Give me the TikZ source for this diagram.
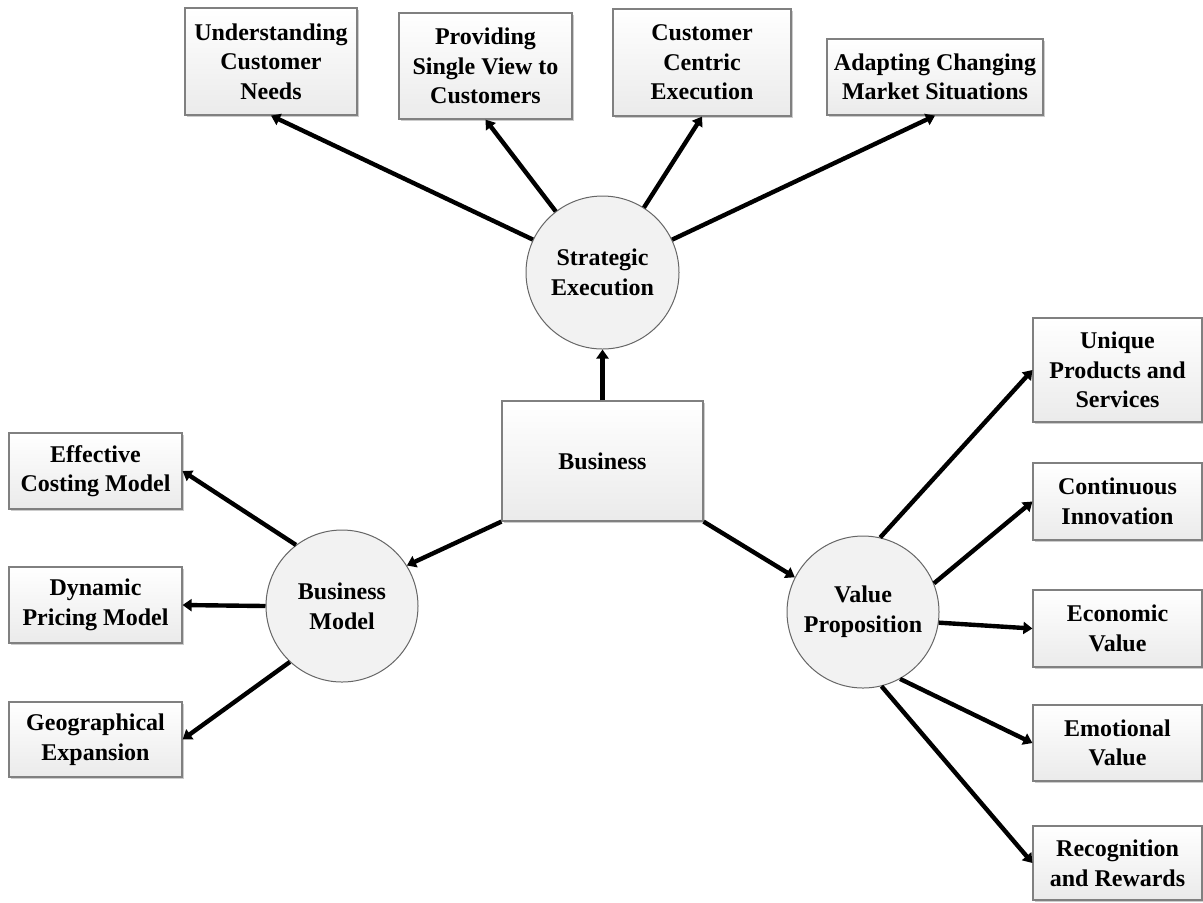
\documentclass[tikz,border=0pt]{standalone}
\usepackage{fontspec}
\setmainfont{Liberation Serif}
\usetikzlibrary{arrows.meta,shadows}
\begin{document}
\begin{tikzpicture}[x=0.5pt,y=-0.5pt,
  font=\fontsize{12}{14.8}\selectfont\bfseries,
  boxnode/.style={rectangle,draw=black!50,line width=0.6pt,top color=white,bottom color=black!8,
    align=center,inner sep=0pt,
    drop shadow={shadow xshift=1.2pt,shadow yshift=-1.2pt,fill=black,opacity=0.2}},
  circnode/.style={circle,draw=black!60,line width=0.5pt,fill=black!5,align=center,inner sep=0pt},
  conn/.style={line width=2.2pt,-{Triangle[length=4.5pt,width=6pt]}}]
\useasboundingbox (0,0) rectangle (1203,902);
% top boxes
\node[boxnode,minimum width=86pt,minimum height=53.5pt] (U) at (271,61.5) {Understanding\\Customer\\Needs};
\node[boxnode,minimum width=86.5pt,minimum height=53pt] (P) at (485.5,66) {Providing\\Single View to\\Customers};
\node[boxnode,minimum width=89pt,minimum height=53.5pt] (C) at (702,62.5) {Customer\\Centric\\Execution};
\node[boxnode,minimum width=108pt,minimum height=38pt] (A) at (935,77) {Adapting Changing\\Market Situations};
% centre
\node[circnode,minimum size=76.5pt] (SE) at (602.5,272.5) {Strategic\\Execution};
\node[boxnode,minimum width=100.5pt,minimum height=60pt] (B) at (602.5,461) {Business};
\node[circnode,minimum size=76pt] (BM) at (342,606) {Business\\Model};
\node[circnode,minimum size=76pt] (VP) at (863,612) {Value\\Proposition};
% left boxes
\node[boxnode,minimum width=86.5pt,minimum height=38pt] (E) at (95.5,471) {Effective\\Costing Model};
\node[boxnode,minimum width=86.5pt,minimum height=38pt] (D) at (95.5,605) {Dynamic\\Pricing Model};
\node[boxnode,minimum width=86.5pt,minimum height=37.5pt] (G) at (95.5,739.5) {Geographical\\Expansion};
% right boxes
\node[boxnode,minimum width=84.5pt,minimum height=52pt] (R1) at (1117.5,370) {Unique\\Products and\\Services};
\node[boxnode,minimum width=84.5pt,minimum height=38.5pt] (R2) at (1117.5,501.5) {Continuous\\Innovation};
\node[boxnode,minimum width=84.5pt,minimum height=38.5pt] (R3) at (1117.5,628.5) {Economic\\Value};
\node[boxnode,minimum width=84.5pt,minimum height=38pt] (R4) at (1117.5,743) {Emotional\\Value};
\node[boxnode,minimum width=84.5pt,minimum height=37pt] (R5) at (1117.5,863) {Recognition\\and Rewards};
% connectors
\draw[conn] (B.north) -- (SE.south);
\draw[conn] (SE) -- (U.south);
\draw[conn] (SE) -- (P.south);
\draw[conn] (SE) -- (C.south);
\draw[conn] (SE) -- (A.south);
\draw[conn] (B.south west) -- (BM.32);
\draw[conn] (BM.127) -- (E.east);
\draw[conn] (BM.180) -- (D.east);
\draw[conn] (BM.227) -- (G.east);
\draw[conn] (B.south east) -- (VP.153);
\draw[conn] (VP.77) -- (R1.west);
\draw[conn] (VP.22) -- (R2.west);
\draw[conn] (VP.-8) -- (R3.west);
\draw[conn] (VP.-61) -- (R4.west);
\draw[conn] (VP.-76) -- (R5.west);
\end{tikzpicture}
\end{document}
